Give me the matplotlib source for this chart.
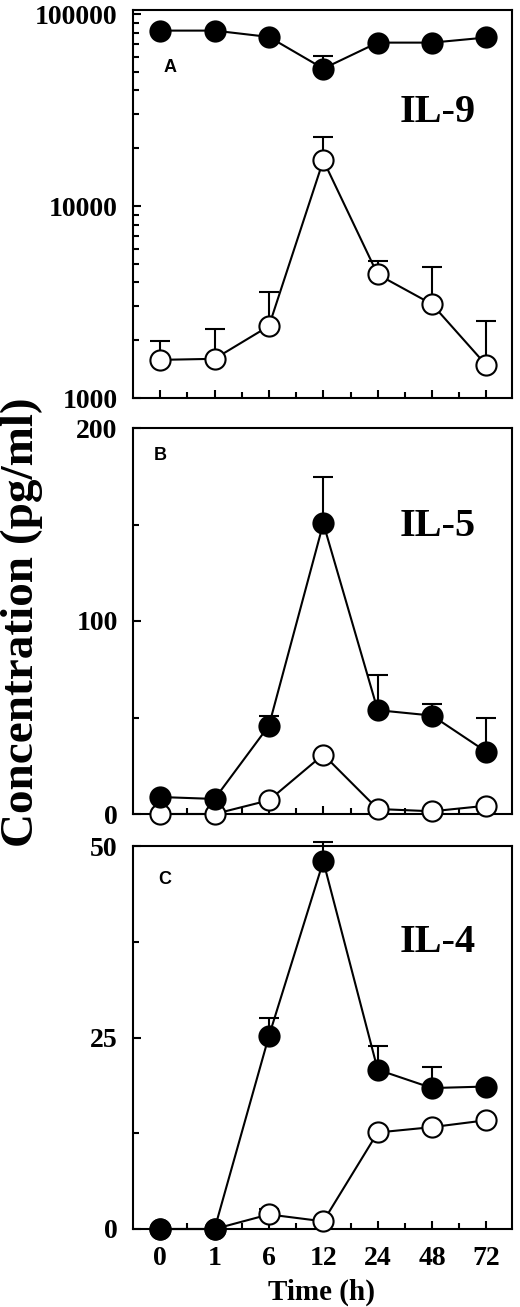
#!/usr/bin/env python3
"""Cytokine time course, three stacked panels (IL-9, IL-5, IL-4)."""

import numpy as np
import matplotlib

matplotlib.use("Agg")
import matplotlib.pyplot as plt
from matplotlib.ticker import FixedLocator, NullFormatter, LogLocator

time_labels = ["0", "1", "6", "12", "24", "48", "72"]

# IL-9 (log scale)
il9_filled = [82000, 82000, 76000, 52000, 71000, 71000, 75500]
il9_filled_err = [0, 0, 0, 8500, 0, 0, 0]
il9_open = [1580, 1600, 2370, 17300, 4400, 3080, 1480]
il9_open_err = [390, 700, 1200, 5700, 750, 1740, 1040]

# IL-5
il5_filled = [8.8, 7.8, 45.8, 150.6, 53.8, 51.0, 32.2]
il5_filled_err = [0, 0, 4.8, 24.1, 18.0, 6.2, 17.6]
il5_open = [0.0, 0.0, 7.1, 30.8, 2.6, 1.4, 4.3]
il5_open_err = [0, 0, 0, 0, 0, 0, 0]

# IL-4
il4_filled = [0.0, 0.0, 25.2, 48.0, 20.8, 18.4, 18.6]
il4_filled_err = [0, 0, 2.3, 2.5, 3.1, 2.8, 0]
il4_open = [0.0, 0.0, 1.9, 1.0, 12.6, 13.3, 14.2]
il4_open_err = [0, 0, 0.7, 0, 0, 0, 0]

serif = "Liberation Serif"


def draw(ax, filled, filled_err, opn, opn_err):
    x = np.arange(len(time_labels))
    for vals, errs, face, z in ((opn, opn_err, "white", 3), (filled, filled_err, "black", 4)):
        errs = np.asarray(errs, dtype=float)
        ax.errorbar(x, vals, yerr=[np.zeros_like(errs), errs], fmt="none",
                    ecolor="black", elinewidth=1.5, capsize=7, capthick=1.5,
                    zorder=z - 1, clip_on=False)
        ax.plot(x, vals, "-o", color="black", lw=1.5, ms=14.5,
                mfc=face, mec="black", mew=1.5, zorder=z, clip_on=False)
    ax.set_xlim(-0.5, 6.47)
    ax.set_xticks(x)
    ax.xaxis.set_minor_locator(FixedLocator(x[:-1] + 0.5))
    ax.tick_params(which="both", direction="in", top=False, right=False,
                   width=1.5, labelsize=20)
    ax.tick_params(which="major", length=6)
    ax.tick_params(which="minor", length=4)
    ax.tick_params(axis="y", pad=11)
    ax.tick_params(axis="x", pad=12)
    for sp in ax.spines.values():
        sp.set_linewidth(1.5)


W, H = 520, 1307
fig = plt.figure(figsize=(W / 100, H / 100), dpi=100)

left = 133 / W
width = (512 - 133) / W


def box(top, bottom):
    return [left, 1 - bottom / H, width, (bottom - top) / H]


axA = fig.add_axes(box(10, 398))
axB = fig.add_axes(box(428, 814))
axC = fig.add_axes(box(846, 1229))

axA.set_yscale("log")
draw(axA, il9_filled, il9_filled_err, il9_open, il9_open_err)
axA.set_ylim(1000, 105000)
axA.set_yticks([1000, 10000, 100000])
axA.set_yticklabels(["1000", "10000", "100000"])
axA.yaxis.set_minor_locator(LogLocator(base=10, subs=np.arange(2, 10)))
axA.yaxis.set_minor_formatter(NullFormatter())
axA.set_xticklabels([])

draw(axB, il5_filled, il5_filled_err, il5_open, il5_open_err)
axB.set_ylim(0, 200)
axB.set_yticks([0, 100, 200])
axB.yaxis.set_minor_locator(FixedLocator([50, 150]))
axB.set_xticklabels([])

draw(axC, il4_filled, il4_filled_err, il4_open, il4_open_err)
axC.set_ylim(0, 50)
axC.set_yticks([0, 25, 50])
axC.yaxis.set_minor_locator(FixedLocator([12.5, 37.5]))
axC.set_xticklabels(time_labels)

for ax in (axA, axB, axC):
    for lab in ax.get_xticklabels() + ax.get_yticklabels():
        lab.set_fontfamily(serif)
        lab.set_fontweight("bold")

# panel letters and cytokine names
for ax, letter, lx, ly, name, ny in ((axA, "A", 170, 68, "IL-9", 113),
                                     (axB, "B", 160, 456, "IL-5", 526),
                                     (axC, "C", 165, 879, "IL-4", 942)):
    fig.text(lx / W, 1 - ly / H, letter, ha="center", va="center",
             fontsize=13, fontweight="bold", family="Liberation Sans")
    fig.text(438 / W, 1 - ny / H, name, ha="center", va="center",
             fontsize=29, fontweight="bold", family=serif)

fig.text(22 / W, 1 - 622 / H, "Concentration (pg/ml)", rotation=90,
         ha="center", va="center", fontsize=34, fontweight="bold", family=serif)
fig.text(322 / W, 1 - 1292 / H, "Time (h)", ha="center", va="center",
         fontsize=21, fontweight="bold", family=serif)

fig.savefig("out.png", dpi=100)
